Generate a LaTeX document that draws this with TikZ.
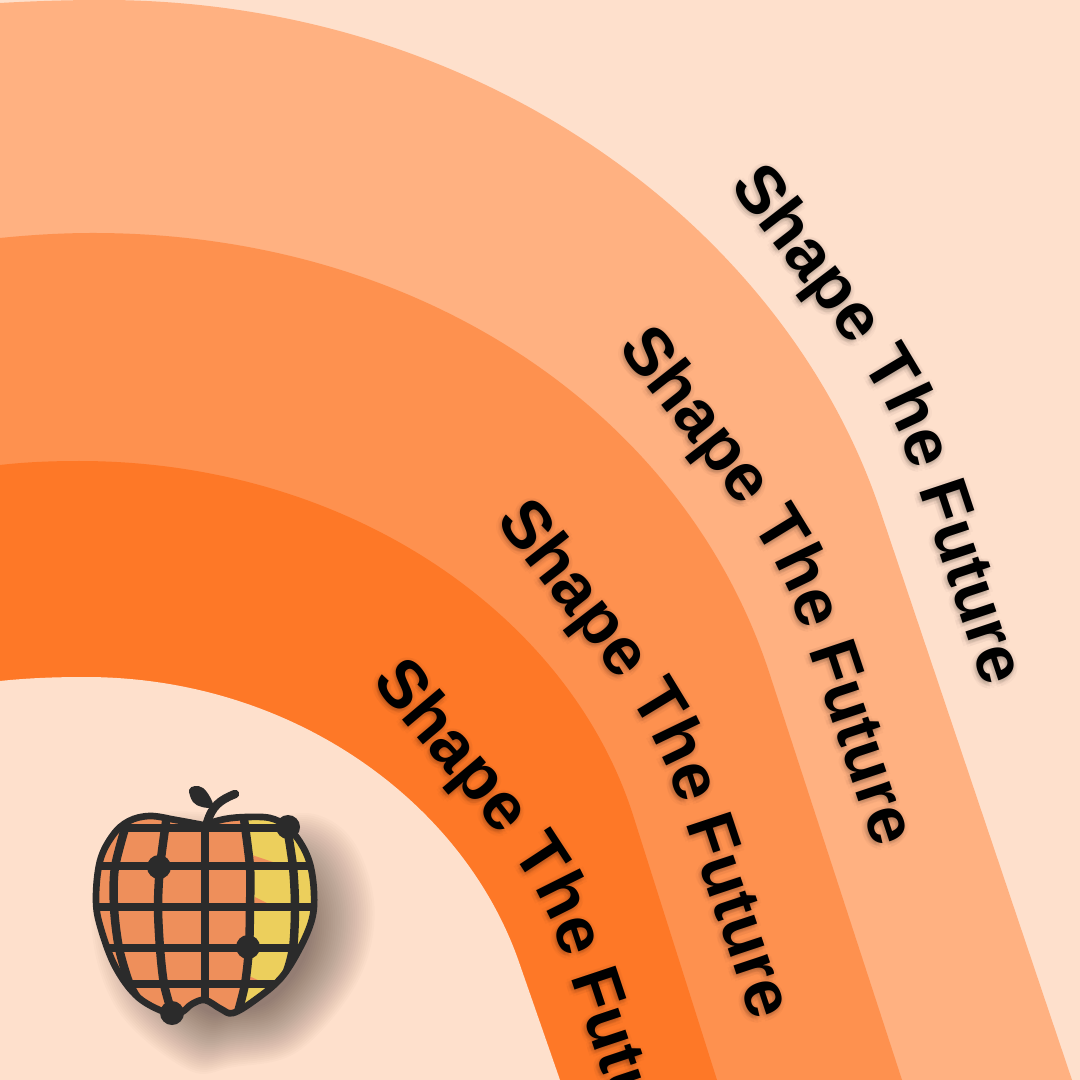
\documentclass[tikz,border=0pt]{standalone}
\usepackage{fontspec}
\usetikzlibrary{decorations.text}
\newfontfamily\bannerface{Liberation Sans}
\newcommand{\bannerfont}{\fontsize{19.2}{23}\bannerface\bfseries}
\definecolor{bandPale}{HTML}{FEE0CC}
\definecolor{bandLight}{HTML}{FFB181}
\definecolor{bandMid}{HTML}{FE914F}
\definecolor{bandDeep}{HTML}{FE7827}
\definecolor{appleOrange}{HTML}{EE8F5B}
\definecolor{appleYellow}{HTML}{ECCF5C}
\definecolor{appleInk}{HTML}{2B2B2B}
\tikzset{
  bannertext/.style={decorate, decoration={text along path,
              text={|\bannerfont|Shape The Future}}},
  wire/.style={draw=appleInk, line width=2.4pt},
  pin/.style={fill=appleInk},
}
\newcommand{\appleshape}{plot[smooth,tension=.6] coordinates {(203,825) (225,819) (247,817)
  (270,818) (286,826) (300,842) (310,864) (314,893) (312,919) (300,948) (281,978) (255,1000)
  (233,1013) (221,1009) (205,1000) (192,1004) (182,1012) (170,1014) (139,998) (116,968)
  (101,929) (96,900) (100,861) (113,835) (129,821) (150,816) (176,820) (203,825)} -- cycle}
\newcommand{\appleblob}{plot[smooth cycle,tension=.6] coordinates {(225,819) (270,818)
  (300,842) (314,893) (300,948) (255,1000) (205,1012) (170,1014) (116,968) (96,900) (113,835) (150,816)}}
\begin{document}
\begin{tikzpicture}[x=0.01cm,y=-0.01cm]
  \useasboundingbox (0,0) rectangle (1080,1080);
  \clip (0,0) rectangle (1080,1080);
  \fill[bandPale] (0,0) rectangle (1080,1080);
  % bands, outermost first
  \fill[bandLight] (0,3) .. controls (35,1) and (70,0) .. (103,0)
     .. controls (483,0) and (786,230) .. (880,510) -- (1072,1080) -- (0,1080) -- cycle;
  \fill[bandMid] (0,238) .. controls (30,235) and (60,233) .. (93,233)
     .. controls (423,233) and (686,415) .. (770,675) -- (902,1080) -- (0,1080) -- cycle;
  \fill[bandDeep] (0,465) .. controls (26,462) and (52,461) .. (79,461)
     .. controls (349,461) and (569,615) .. (633,815) -- (717,1080) -- (0,1080) -- cycle;
  \fill[bandPale] (0,681) .. controls (28,678) and (56,677) .. (85,677)
     .. controls (295,677) and (466,805) .. (520,965) -- (560,1080) -- (0,1080) -- cycle;
  % curved labels
  \foreach \dx/\dy/\ex/\ey in {0/0/0/0,-112/162/3/0,-234/335/2/0,-358/495/10/-7}{
    \begin{scope}[shift={(\dx,\dy)}]
      \def\bannerpath{(730,185) .. controls (779,257) and (869+\ex,352+\ey) .. (902+\ex,440+\ey) -- (1040+\ex,855+\ey)}
      \foreach \a in {0,45,...,315}{
        \foreach \r in {2,5}{
          \begin{scope}[shift={(\a:\r)},shift={(-1,2)},opacity=.025]
            \path[bannertext] \bannerpath;
          \end{scope}
        }
      }
      \path[bannertext] \bannerpath;
    \end{scope}
  }
  % apple shadow
  \foreach \s in {0.72,0.74,...,1.32}{
    \begin{scope}[shift={(233,941)},scale=\s,shift={(-205,-915)}]
      \fill[black, opacity=.014] \appleblob;
    \end{scope}
  }
  % apple
  \fill[appleOrange] \appleshape;
  \begin{scope}
    \clip \appleshape;
    \fill[appleYellow] plot[smooth] coordinates {(243,800) (250,867) (250,907) (249,948) (245,984) (236,1030)}
       -- (330,1030) -- (330,800) -- cycle;
    \fill[appleOrange] (252,855) -- (273,862) -- (253,863) -- cycle;
    \fill[appleOrange] (255,897) -- (267,903) -- (254,903) -- cycle;
    \fill[appleOrange] (249,976) -- (260,981) -- (248,981) -- cycle;
    \foreach \y in {828,866,907,948,984}
      \draw[wire] (80,\y) -- (330,\y);
    \draw[wire] (205,815) -- (205,1010);
    \draw[wire] plot[smooth] coordinates {(128,818) (115,867) (114,907) (119,948) (130,985) (142,1005)};
    \draw[wire] plot[smooth] coordinates {(167,815) (160,867) (158,907) (160,948) (164,984) (172,1013)};
    \draw[wire] plot[smooth] coordinates {(243,812) (250,867) (250,907) (249,948) (245,984) (238,1012)};
    \draw[wire] plot[smooth] coordinates {(287,827) (293,867) (295,907) (293,948) (285,977) (274,995)};
  \end{scope}
  \draw[appleInk, line width=1.9pt] \appleshape;
  \draw[wire, line cap=round] (207,823) .. controls (212,806) and (220,800) .. (235,794);
  \fill[pin] plot[smooth cycle,tension=.6] coordinates {(189,790) (195,786) (203,788) (210,797) (213,807) (202,807) (193,802)};
  \foreach \x/\y in {159/867,288/827,248/947,172/1013}
    \fill[pin] (\x,\y) circle (12);
\end{tikzpicture}
\end{document}
